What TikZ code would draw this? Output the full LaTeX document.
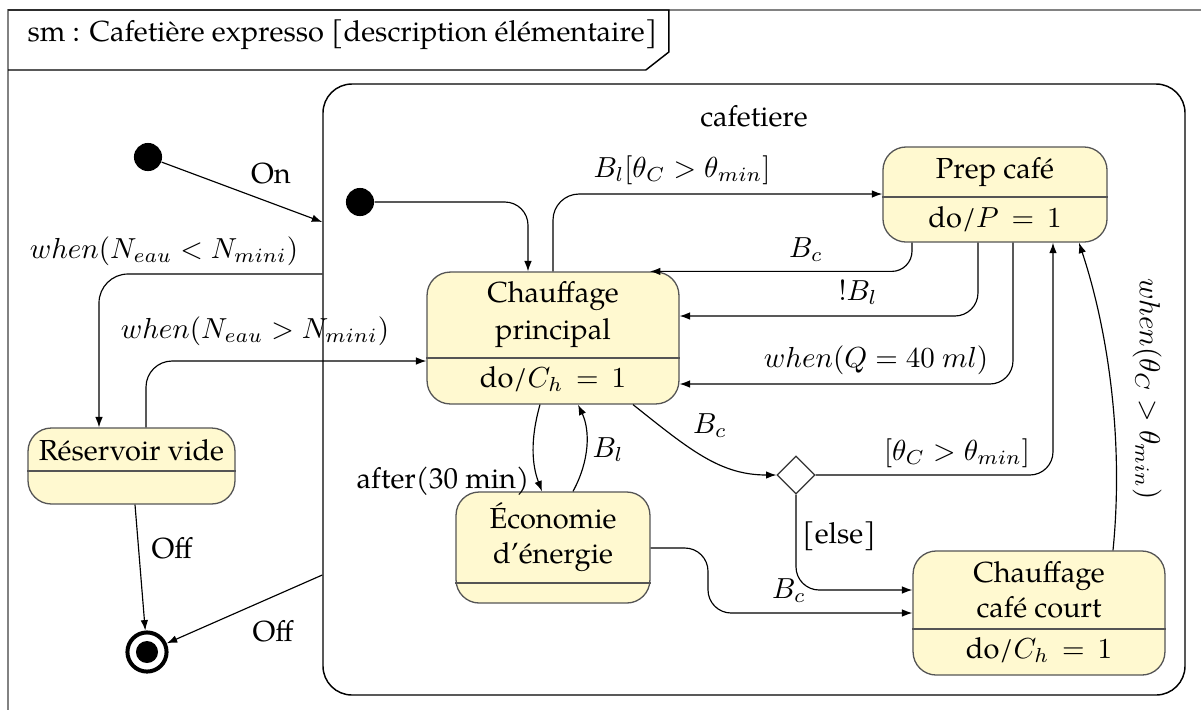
\documentclass[tikz,border=0pt]{standalone}
\usepackage{fontspec}
\setmainfont{TeX Gyre Pagella}
\usetikzlibrary{arrows.meta,shapes.geometric,calc}
\definecolor{stfill}{RGB}{255,249,208}
\definecolor{stdraw}{RGB}{85,85,85}
\definecolor{framegray}{RGB}{130,130,130}
\tikzset{
  st/.style={draw=stdraw, fill=stfill, line width=0.45pt, rounded corners=8pt, inner sep=0pt},
  tr/.style={-{Latex[length=3.6pt,width=2.6pt]}, line width=0.4pt},
  lbl/.style={anchor=base, inner sep=0pt},
  ini/.style={circle, fill=black, inner sep=0pt, minimum size=9.7pt},
  divl/.style={draw=stdraw, line width=0.45pt},
}
\begin{document}
\begin{tikzpicture}[x=0.345pt,y=-0.345pt]
\useasboundingbox (0,0) rectangle (1201,710);
% frame
\draw[framegray, line width=0.7pt] (1201,10) -- (8,10) -- (8,710);
\node[lbl, anchor=base west] (title) at (27,41) {sm : Cafetière expresso [description élémentaire]};
\coordinate (tabr) at ($(title.east)+(11,0)$);
\draw[line width=0.5pt] (8,10) -- (tabr |- 0,10) -- (tabr |- 0,52) -- ($(tabr |- 0,70)+(-23,0)$) -- (8,70);

% composite state
\node[draw, line width=0.5pt, rounded corners=10pt, minimum width=297.4pt, minimum height=210.8pt, inner sep=0pt] (comp) at (754,389.5) {};
\node[lbl] (compname) at (754,126) {cafetiere};

% states
\node[st, minimum width=86.9pt, minimum height=45.5pt] (cp) at (553,338) {};
\draw[divl] (cp.west |- 0,358) -- (cp.east |- 0,358);
\node[lbl] (cpa) at (553,302) {Chauffage};
\node[lbl] (cpb) at (553,339) {principal};
\node[lbl] (cpc) at (553,387) {do/$C_h\,=\,1$};

\node[st, minimum width=77.3pt, minimum height=32.8pt] (prep) at (995,194.5) {};
\draw[divl] (prep.west |- 0,197) -- (prep.east |- 0,197);
\node[lbl] (prepa) at (995,178) {Prep café};
\node[lbl] (prepb) at (995,227) {do/$P\,=\,1$};

\node[st, minimum width=71.4pt, minimum height=26.2pt] (rv) at (131.5,466) {};
\draw[divl] (rv.west |- 0,471) -- (rv.east |- 0,471);
\node[lbl] (rva) at (131.5,460) {Réservoir vide};

\node[st, minimum width=66.9pt, minimum height=38.3pt] (eco) at (553,547.5) {};
\draw[divl] (eco.west |- 0,583) -- (eco.east |- 0,583);
\node[lbl] (ecoa) at (553,528) {Économie};
\node[lbl] (ecob) at (553,563) {d'énergie};

\node[st, minimum width=86.9pt, minimum height=42.8pt] (ccc) at (1039,613) {};
\draw[divl] (ccc.west |- 0,629) -- (ccc.east |- 0,629);
\node[lbl] (ccca) at (1039,582) {Chauffage};
\node[lbl] (cccb) at (1039,617) {café court};
\node[lbl] (cccc) at (1039,658) {do/$C_h\,=\,1$};

\node[draw=black!80, fill=white, diamond, inner sep=0pt, minimum width=13.1pt, minimum height=13.1pt, line width=0.4pt] (dec) at (796,475) {};

\node[ini] (i1) at (148,157) {};
\node[ini] (i2) at (360,202) {};
\node[circle, draw, line width=1.38pt, minimum size=13.5pt, inner sep=0pt] (fin) at (147,652) {};
\node[circle, fill=black, minimum size=7.6pt, inner sep=0pt] (find) at (147,652) {};

% transitions
\draw[tr] (i1) -- (comp.west |- 0,222);
\draw[tr, rounded corners=10pt] (comp.west |- 0,274) -| (99,0 |- rv.north);
\draw[tr, rounded corners=9pt] (146,0 |- rv.north) |- (cp.west |- 0,361);
\draw[tr, rounded corners=8pt] (i2) -| (528,0 |- cp.north);
\draw[tr, rounded corners=9pt] (553,0 |- cp.north) |- (prep.west |- 0,194);
\draw[tr, rounded corners=7pt] (912,0 |- prep.south) |- (650,0 |- cp.north);
\draw[tr, rounded corners=8pt] (978,0 |- prep.south) |- (cp.east |- 0,316);
\draw[tr, rounded corners=8pt] (1013,0 |- prep.south) |- (cp.east |- 0,384);
\draw[tr, rounded corners=8pt] (dec.east) -| (1053,0 |- prep.south);
\draw[tr] (1113,0 |- ccc.north) .. controls (1124,440) and (1108,330) .. (1079,0 |- prep.south);
\draw[tr] (633,0 |- cp.south) .. controls (690,450) and (720,475) .. (dec.west);
\draw[tr] (540,0 |- cp.south) .. controls (530,440) and (532,465) .. (542,0 |- eco.north);
\draw[tr] (573,0 |- eco.north) .. controls (590,460) and (590,430) .. (578,0 |- cp.south);
\draw[tr, rounded corners=8pt] (dec.south) |- (ccc.west |- 0,590);
\draw[tr, rounded corners=8pt] (eco.east |- 0,548) -| (708,613) -- (ccc.west |- 0,613);
\draw[tr] (135,0 |- rv.south) -- (fin);
\draw[tr] (comp.west |- 0,575) -- (fin);

% labels
\node[lbl] (lOn) at (271,183) {On};
\node[lbl] (lwl) at (164,258) {$when(N_{eau} < N_{mini})$};
\node[lbl] (lwg) at (255,338) {$when(N_{eau} > N_{mini})$};
\node[lbl] (lbl1) at (682,177) {$B_l[\theta_C > \theta_{min}]$};
\node[lbl] (lbc1) at (806,257) {$B_c$};
\node[lbl] (lnbl) at (858,300) {$!B_l$};
\node[lbl] (lwq) at (876,367) {$when(Q = 40\ ml)$};
\node[lbl] (lth) at (957,460) {$[\theta_C > \theta_{min}]$};
\node[lbl] (lbc2) at (710,433) {$B_c$};
\node[lbl] (lbl2) at (608,457) {$B_l$};
\node[lbl] (laft) at (443,488) {after(30 min)};
\node[lbl] (lels) at (839,543) {[else]};
\node[lbl] (lbc3) at (789,598) {$B_c$};
\node[lbl] (loff1) at (172,558) {Off};
\node[lbl] (loff2) at (273,641) {Off};
\node[rotate=-90, inner sep=0pt] (lwt) at (1147,389) {$when(\theta_C > \theta_{min})$};
\end{tikzpicture}
\end{document}
